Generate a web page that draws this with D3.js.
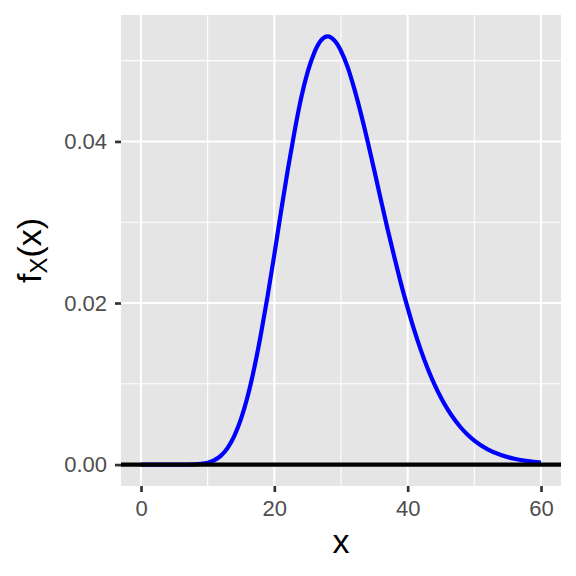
<!DOCTYPE html>
<html>
<head>
<meta charset="utf-8">
<script src="https://cdn.jsdelivr.net/npm/d3@7"></script>
<style>
  html, body { margin: 0; padding: 0; background: #fff; }
  svg text { font-family: "Liberation Sans", Arial, sans-serif; }
</style>
</head>
<body>
<svg id="chart" width="576" height="576"></svg>
<script>
// Data
const xValues = [0, 2, 4, 6, 8, 9, 10, 11, 12, 13, 14, 15, 16, 17, 18, 19, 20, 21, 22, 23, 24, 25, 26, 27, 28, 29, 30,
  31, 32, 33, 34, 35, 36, 37, 38, 39, 40, 41, 42, 43, 44, 45, 46, 47, 48, 49, 50, 52, 54, 56, 58, 60];
const densityValues = [0, 0, 0.00000001, 0.0000014, 0.000028, 0.000089, 0.000236, 0.000543, 0.00111, 0.00207, 0.00355,
  0.00565, 0.00846, 0.0120, 0.0162, 0.0209, 0.0260, 0.0313, 0.0364, 0.0411, 0.0453, 0.0486, 0.0510, 0.0525, 0.0530,
  0.0525, 0.0512, 0.0492, 0.0465, 0.0434, 0.0400, 0.0364, 0.0327, 0.0291, 0.0257, 0.0224, 0.0194, 0.0166, 0.0141,
  0.0119, 0.00996, 0.00827, 0.00683, 0.00560, 0.00456, 0.00369, 0.00297, 0.00189, 0.00118, 0.00072, 0.00043, 0.00026];
const xTicks = [0, 20, 40, 60];
const xMinorTicks = [10, 30, 50];
const yTicks = [0, 0.02, 0.04];
const yTickLabels = ["0.00", "0.02", "0.04"];
const yMinorTicks = [0.01, 0.03, 0.05];
const hlineValue = 0;

const svg = d3.select("#chart");
const panel = { left: 121, right: 561, top: 15, bottom: 486 };

const xMin = d3.min(xValues), xMax = d3.max(xValues);
const xPad = (xMax - xMin) * 0.05;
const yMax = d3.max(densityValues);
const yPad = yMax * 0.05;

const x = d3.scaleLinear().domain([xMin - xPad, xMax + xPad]).range([panel.left, panel.right]);
const y = d3.scaleLinear().domain([0 - yPad, yMax + yPad]).range([panel.bottom, panel.top]);

// panel background
svg.append("rect")
  .attr("x", panel.left).attr("y", panel.top)
  .attr("width", panel.right - panel.left).attr("height", panel.bottom - panel.top)
  .attr("fill", "#E5E5E5");

const grid = svg.append("g");
// minor grid
grid.selectAll(".xminor").data(xMinorTicks).enter().append("line")
  .attr("x1", d => x(d)).attr("x2", d => x(d))
  .attr("y1", panel.top).attr("y2", panel.bottom)
  .attr("stroke", "#fff").attr("stroke-width", 1.1);
grid.selectAll(".yminor").data(yMinorTicks).enter().append("line")
  .attr("y1", d => y(d)).attr("y2", d => y(d))
  .attr("x1", panel.left).attr("x2", panel.right)
  .attr("stroke", "#fff").attr("stroke-width", 1.1);
// major grid
grid.selectAll(".xmajor").data(xTicks).enter().append("line")
  .attr("x1", d => x(d)).attr("x2", d => x(d))
  .attr("y1", panel.top).attr("y2", panel.bottom)
  .attr("stroke", "#fff").attr("stroke-width", 2.1);
grid.selectAll(".ymajor").data(yTicks).enter().append("line")
  .attr("y1", d => y(d)).attr("y2", d => y(d))
  .attr("x1", panel.left).attr("x2", panel.right)
  .attr("stroke", "#fff").attr("stroke-width", 2.1);

// density curve
const pts = xValues.map((v, i) => [v, densityValues[i]]);
svg.append("path")
  .datum(pts)
  .attr("fill", "none")
  .attr("stroke", "#0000FF")
  .attr("stroke-width", 4.2)
  .attr("stroke-linejoin", "round")
  .attr("stroke-linecap", "butt")
  .attr("d", d3.line().x(d => x(d[0])).y(d => y(d[1])).curve(d3.curveMonotoneX));

// horizontal line at 0
svg.append("line")
  .attr("x1", panel.left).attr("x2", panel.right)
  .attr("y1", y(hlineValue)).attr("y2", y(hlineValue))
  .attr("stroke", "#000").attr("stroke-width", 4.3);

// axes
const xAxis = d3.axisBottom(x).tickValues(xTicks).tickSize(6).tickPadding(8).tickFormat(d3.format("d"));
const gx = svg.append("g").attr("transform", `translate(0,${panel.bottom})`).call(xAxis);
gx.select(".domain").remove();
gx.selectAll(".tick line").attr("stroke", "#333333").attr("stroke-width", 2.7);
gx.selectAll(".tick text").attr("fill", "#4D4D4D").attr("font-size", 22)
  .attr("font-family", "Liberation Sans, Arial, sans-serif");

const yAxis = d3.axisLeft(y).tickValues(yTicks).tickSize(6).tickPadding(8)
  .tickFormat((d, i) => yTickLabels[i]);
const gy = svg.append("g").attr("transform", `translate(${panel.left},0)`).call(yAxis);
gy.select(".domain").remove();
gy.selectAll(".tick line").attr("stroke", "#333333").attr("stroke-width", 2.7);
gy.selectAll(".tick text").attr("fill", "#4D4D4D").attr("font-size", 22)
  .attr("font-family", "Liberation Sans, Arial, sans-serif");

// axis titles
svg.append("text")
  .attr("x", (panel.left + panel.right) / 2).attr("y", 553)
  .attr("text-anchor", "middle")
  .attr("font-size", 34).attr("fill", "#000")
  .text("x");

const yt = svg.append("text")
  .attr("transform", `translate(41,${(panel.top + panel.bottom) / 2}) rotate(-90)`)
  .attr("text-anchor", "middle")
  .attr("font-size", 34).attr("fill", "#000");
yt.append("tspan").text("f");
yt.append("tspan").attr("font-size", 24).attr("dy", 6).text("X");
yt.append("tspan").attr("dy", -6).text("(x)");
</script>
</body>
</html>
